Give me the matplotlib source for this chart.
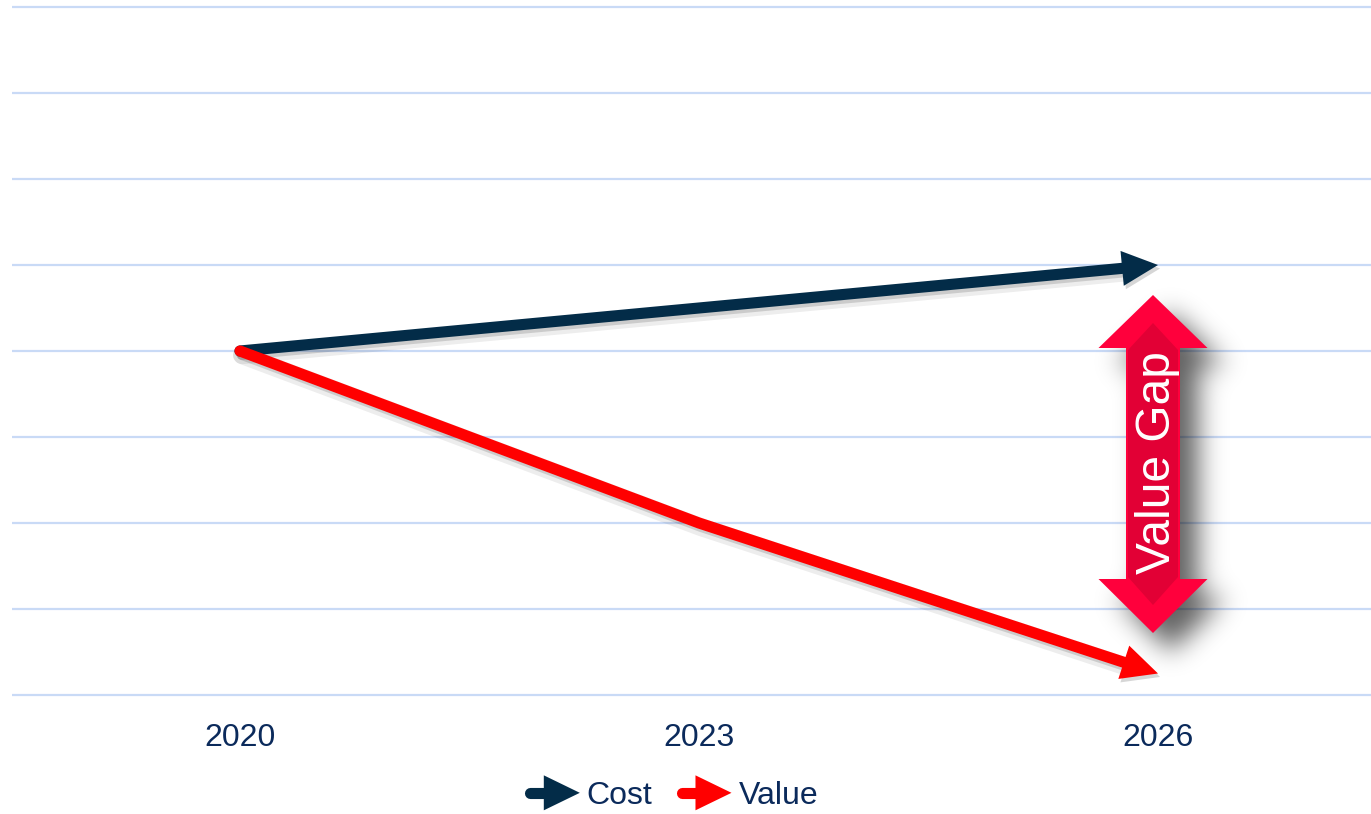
import matplotlib
matplotlib.use('Agg')
import matplotlib.pyplot as plt
from matplotlib.lines import Line2D
from matplotlib.patches import Polygon
from matplotlib.path import Path
from matplotlib.legend_handler import HandlerBase
import matplotlib.patheffects as pe
from matplotlib.transforms import Affine2D, IdentityTransform
import numpy as np

# ---------------- data ----------------
categories = ['2020', '2023', '2026']
cost = [4.0, 4.5, 5.0]
value = [4.0, 2.0, 0.25]
series_names = ['Cost', 'Value']
gap_label = 'Value Gap'

# ---------------- style ----------------
plt.rcParams['font.family'] = ['Liberation Sans', 'DejaVu Sans']
COST_C = '#032C48'
VALUE_C = '#FF0000'
GRID_C = '#C9DAF6'
TEXT_C = '#0B2A5B'
LW = 8.0          # points
HEAD_L = 36.0     # pixels
HEAD_HW = 17.5    # pixels

W, H, DPI = 1371, 814, 100
fig = plt.figure(figsize=(W / DPI, H / DPI), dpi=DPI)
ax = fig.add_axes([12 / W, (H - 700) / H, (W - 12) / W, 698 / H])
ax.set_xlim(-(240 - 12) / 459, 2 + (1371 - 1158) / 459)
ax.set_ylim(-5 / 86, 8 + 5 / 86)

ax.set_yticks(np.arange(0, 9))
ax.grid(axis='y', color=GRID_C, lw=1.6)
ax.set_axisbelow(True)
ax.tick_params(axis='y', length=0, labelleft=False)
for s in ax.spines.values():
    s.set_visible(False)

x = np.arange(len(categories))
ax.set_xticks(x)
ax.set_xticklabels(categories, fontsize=23, color=TEXT_C)
ax.tick_params(axis='x', length=0, pad=16.5)

line_fx = [pe.SimpleLineShadow(offset=(1.5, -3), shadow_color='k', alpha=0.07, linewidth=LW + 5),
           pe.SimpleLineShadow(offset=(1.5, -2.5), shadow_color='k', alpha=0.14),
           pe.Normal()]
head_fx = [pe.SimplePatchShadow(offset=(1.5, -2.5), shadow_rgbFace='k', alpha=0.16), pe.Normal()]


def draw_series(yv, color, z):
    P = ax.transData.transform(np.column_stack([x, yv]))
    tip, prev = P[-1], P[-2]
    d = (tip - prev) / np.linalg.norm(tip - prev)
    n = np.array([-d[1], d[0]])
    base = tip - d * HEAD_L
    end = ax.transData.inverted().transform(tip - d * (HEAD_L - 4))
    xs = list(x[:-1]) + [end[0]]
    ys = list(yv[:-1]) + [end[1]]
    ax.plot(xs, ys, color=color, lw=LW, solid_capstyle='round',
            solid_joinstyle='round', zorder=z, path_effects=line_fx)
    ax.add_patch(Polygon([tip, base + n * HEAD_HW, base - n * HEAD_HW], closed=True,
                         transform=IdentityTransform(), facecolor=color,
                         edgecolor='none', zorder=z, path_effects=head_fx))


draw_series(cost, COST_C, 4)
draw_series(value, VALUE_C, 5)

# ---------------- Value Gap double arrow (decoration, figure pixel coords) ----------------
pix = Affine2D().scale(1 / W, -1 / H).translate(0, 1) + fig.transFigure
cx, hw, sw = 1153, 54.5, 27
t_tip, t_base, b_base, b_tip = 295, 348, 579, 633
outer = [(cx, t_tip), (cx + hw, t_base), (cx + sw, t_base), (cx + sw, b_base),
         (cx + hw, b_base), (cx, b_tip), (cx - hw, b_base), (cx - sw, b_base),
         (cx - sw, t_base), (cx - hw, t_base)]
inner = [(cx, t_tip + 28), (cx + sw - 2, t_base + 2), (cx + sw - 2, b_base - 2),
         (cx, b_tip - 28), (cx - sw + 2, b_base - 2), (cx - sw + 2, t_base + 2)]

# soft blurred drop shadow
rx0, rx1, ry0, ry1 = 1030, 1320, 240, 750
sdx, sdy, sigma = 18, 18, 13
gy, gx = np.mgrid[ry0:ry1, rx0:rx1]
pts = np.column_stack([gx.ravel() + 0.5, gy.ravel() + 0.5])
shadow_path = Path([(px + sdx, py + sdy) for px, py in outer] + [(cx + sdx, t_tip + sdy)], closed=True)
mask = shadow_path.contains_points(pts).reshape(gx.shape).astype(float)
k = np.arange(-3 * sigma, 3 * sigma + 1)
kern = np.exp(-0.5 * (k / sigma) ** 2)
kern /= kern.sum()
mask = np.apply_along_axis(lambda r: np.convolve(r, kern, mode='same'), 1, mask)
mask = np.apply_along_axis(lambda c: np.convolve(c, kern, mode='same'), 0, mask)
rgba = np.zeros(mask.shape + (4,))
rgba[..., 3] = np.clip(mask * 0.62, 0, 1)
fig.figimage(rgba, xo=rx0, yo=H - ry1, origin='upper', zorder=6)

fig.patches.append(Polygon(outer, closed=True, transform=pix, facecolor='#FF003C',
                           edgecolor='none', zorder=7))
fig.patches.append(Polygon(inner, closed=True, transform=pix, facecolor='#E20035',
                           edgecolor='none', zorder=8))
fig.text(1157, 463, gap_label, transform=pix, rotation=90, ha='center', va='center',
         color='white', fontsize=34.5, zorder=9)


# ---------------- legend ----------------
class ArrowHandler(HandlerBase):
    def create_artists(self, legend, orig_handle, xdescent, ydescent, width, height,
                       fontsize, trans):
        c = orig_handle.get_color()
        yc = height / 2 - ydescent
        x0 = -xdescent + LW / 2
        x1 = -xdescent + width
        hl, hh = HEAD_L * 0.72, HEAD_HW * 0.72
        ln = Line2D([x0, x1 - hl + 2], [yc, yc], color=c, lw=LW,
                    solid_capstyle='round', transform=trans)
        head = Polygon([[x1 - hl, yc - hh], [x1, yc], [x1 - hl, yc + hh]], closed=True,
                       facecolor=c, edgecolor='none', transform=trans)
        return [ln, head]


proxies = [Line2D([], [], color=COST_C), Line2D([], [], color=VALUE_C)]
leg = fig.legend(proxies, series_names, loc='center',
                 bbox_to_anchor=(671.5 / W, 1 - 796 / H), ncol=2, frameon=False,
                 fontsize=23, handlelength=1.72, handletextpad=0.22, columnspacing=0.75,
                 handler_map={Line2D: ArrowHandler()})
for t in leg.get_texts():
    t.set_color(TEXT_C)

fig.savefig('out.png', dpi=DPI)
